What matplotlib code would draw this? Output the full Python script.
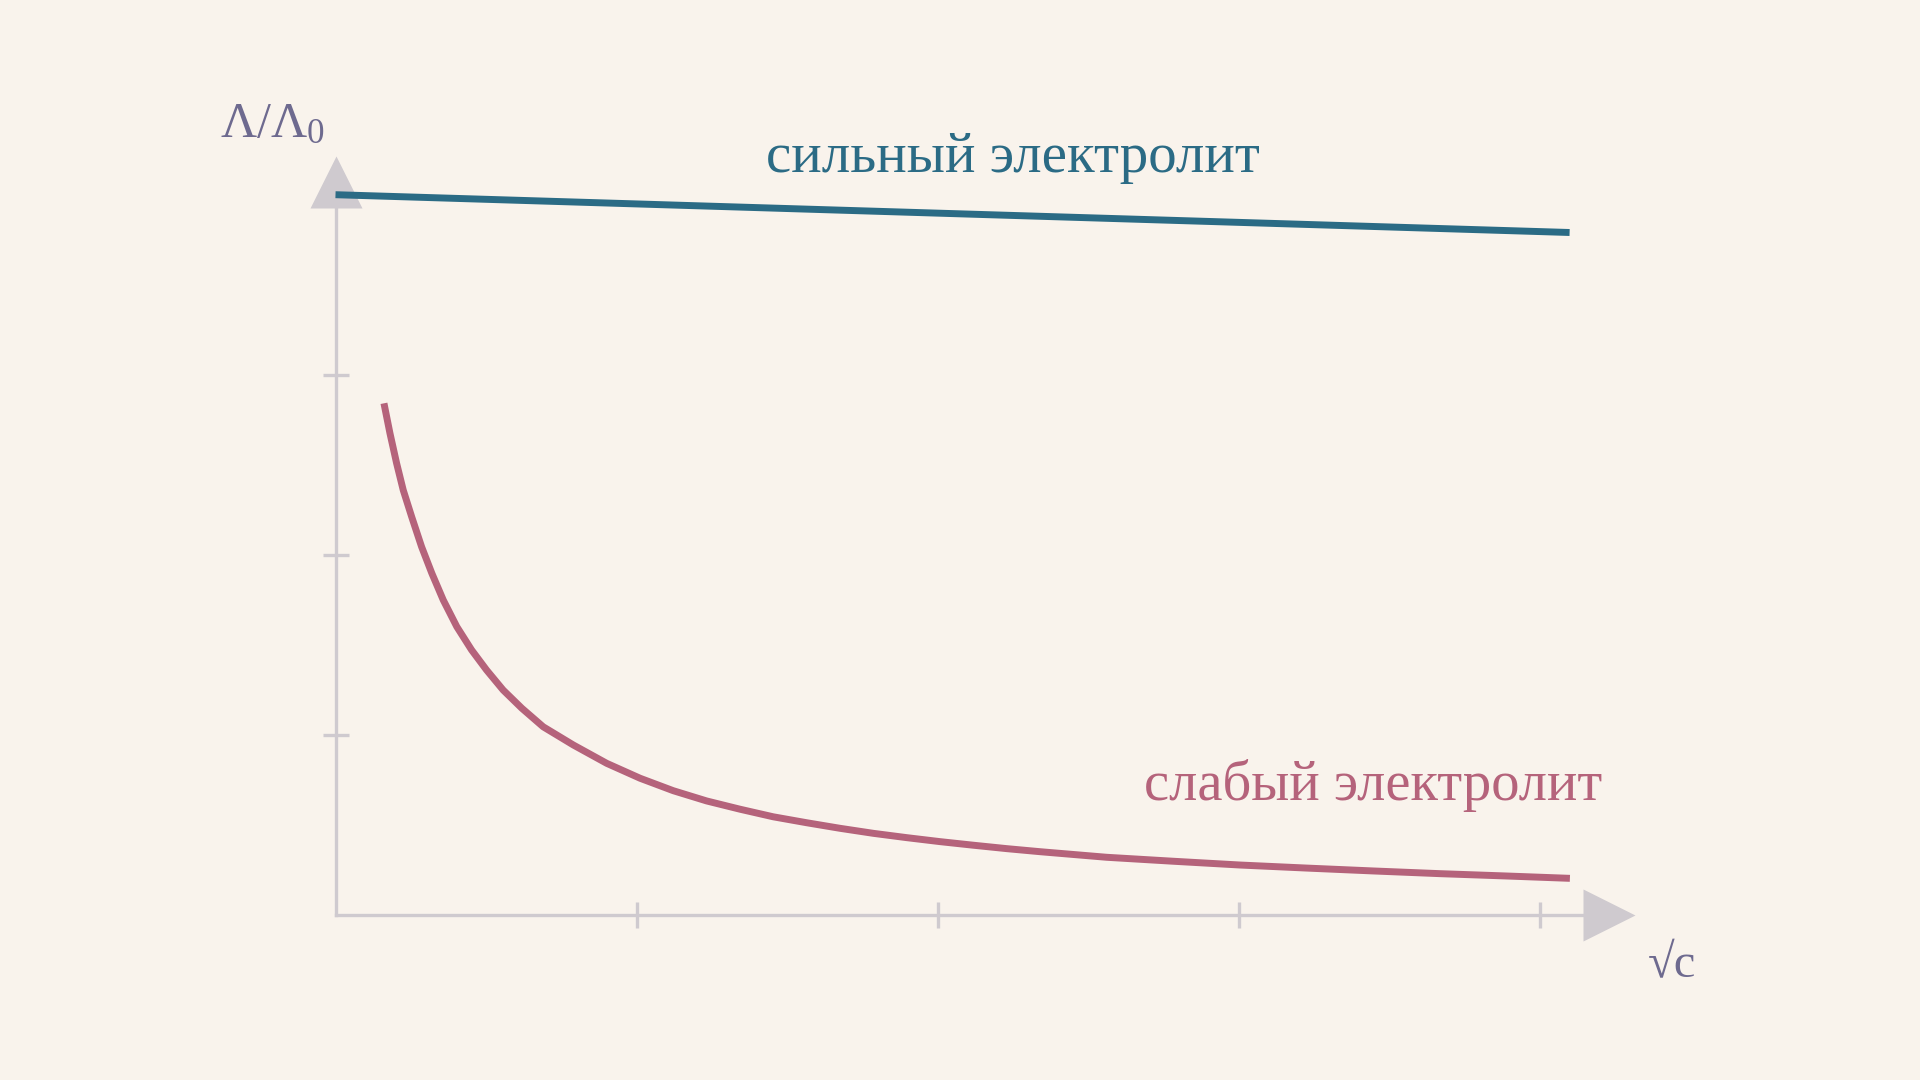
import numpy as np
import matplotlib.pyplot as plt

# values (x: sqrt(c) in tick units, y: Lambda/Lambda0 in tick units)
strong_x = [0.0, 4.1]
strong_y = [4.0, 3.79]

weak_x = [0.161, 0.181, 0.203, 0.225, 0.253, 0.286, 0.320, 0.358, 0.403, 0.452,
          0.502, 0.557, 0.619, 0.690, 0.790, 0.901, 1.012, 1.122, 1.233, 1.344,
          1.454, 1.565, 1.676, 1.787, 1.898, 2.008, 2.119, 2.230, 2.341, 2.562,
          2.783, 3.005, 3.227, 3.448, 3.669, 3.891, 4.101]
weak_y = [2.841, 2.674, 2.508, 2.359, 2.211, 2.044, 1.897, 1.748, 1.600, 1.471,
          1.359, 1.248, 1.147, 1.044, 0.943, 0.841, 0.758, 0.689, 0.632, 0.586,
          0.544, 0.511, 0.480, 0.452, 0.428, 0.406, 0.386, 0.367, 0.350, 0.319,
          0.297, 0.276, 0.259, 0.243, 0.228, 0.215, 0.202]

x_ticks = [1, 2, 3, 4]
y_ticks = [1, 2, 3]

strong_label = "сильный электролит"
weak_label = "слабый электролит"

bg = "#f9f3ec"
axis_col = "#cfcacf"
strong_col = "#2b6b85"
weak_col = "#b5637b"
label_col = "#6e6a8f"

plt.rcParams['mathtext.fontset'] = 'custom'
plt.rcParams['mathtext.rm'] = 'Liberation Serif'
plt.rcParams['mathtext.it'] = 'Liberation Serif:italic'
fams = ['Liberation Serif', 'DejaVu Serif']

fig = plt.figure(figsize=(19.2, 10.8), dpi=100, facecolor=bg)
# origin at (335.5, 914.7) px from top-left, 301 px per x unit, 180 px per y unit
xmax, ymax = 4.3, 4.1
ax = fig.add_axes([335.5 / 1920, (1080 - 914.7) / 1080,
                   xmax * 301 / 1920, ymax * 180 / 1080])
ax.set_xlim(0, xmax)
ax.set_ylim(0, ymax)
ax.set_facecolor('none')

for s in ['top', 'right']:
    ax.spines[s].set_visible(False)
for s in ['left', 'bottom']:
    ax.spines[s].set_color(axis_col)
    ax.spines[s].set_linewidth(2.4)
ax.spines['left'].set_bounds(0, 4.07)
ax.spines['bottom'].set_bounds(0, 4.23)

ax.set_xticks(x_ticks)
ax.set_yticks(y_ticks)
ax.set_xticklabels([])
ax.set_yticklabels([])
ax.tick_params(direction='inout', length=19, width=2.4, color=axis_col)

# arrow heads
ax.plot([0], [4.07], marker='^', ms=37.4, color=axis_col, mec='none',
        clip_on=False, zorder=2)
ax.plot([4.23], [0], marker='>', ms=37.4, color=axis_col, mec='none',
        clip_on=False, zorder=2)

ax.plot(strong_x, strong_y, color=strong_col, lw=5, solid_capstyle='butt',
        clip_on=False, zorder=3)
ax.plot(weak_x, weak_y, color=weak_col, lw=5, solid_capstyle='butt',
        solid_joinstyle='round', clip_on=False, zorder=3)

ax.text(2.252, 4.128, strong_label, color=strong_col, fontsize=41, family=fams,
        ha='center', va='baseline')
ax.text(4.207, 0.637, weak_label, color=weak_col, fontsize=40.8, family=fams,
        ha='right', va='baseline')

ax.text(-0.384, 4.321, r'$\Lambda/\Lambda_0$', color=label_col, fontsize=36,
        ha='left', va='baseline')
ax.text(4.36, -0.346, "√c", color=label_col, fontsize=35, family=fams,
        ha='left', va='baseline')

fig.savefig("out.png", dpi=100, facecolor=bg)
